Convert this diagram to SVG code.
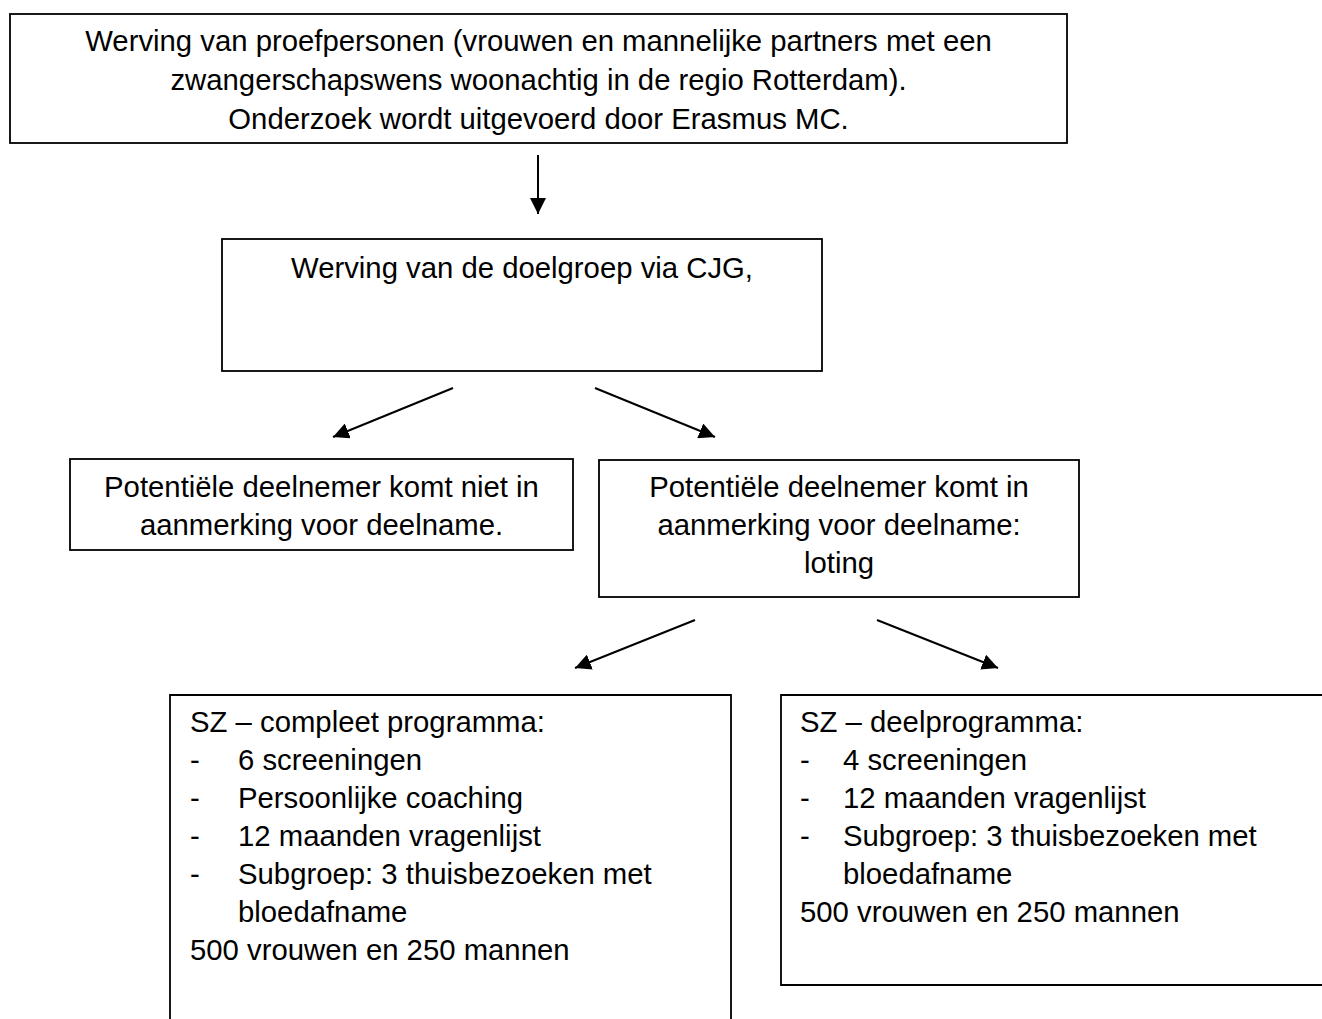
<svg xmlns="http://www.w3.org/2000/svg" width="1322" height="1019" viewBox="0 0 1322 1019">
  <style>
    .box { fill: #fff; stroke: #000; stroke-width: 1.8; }
    .t { font-family: "Liberation Sans", Arial, sans-serif; font-size: 29.3px; fill: #000; }
    .c { text-anchor: middle; }
    .arrow { stroke: #000; stroke-width: 2; fill: none; marker-end: url(#ah); }
  </style>
  <defs>
    <marker id="ah" markerUnits="userSpaceOnUse" markerWidth="16" markerHeight="16" refX="16" refY="8" orient="auto">
      <path d="M0,0 L16,8 L0,16 z" fill="#000"/>
    </marker>
  </defs>
  <rect width="1322" height="1019" fill="#fff"/>

  <g id="n1">
    <rect class="box" x="10" y="14" width="1057" height="129"/>
    <text class="t c" x="538.5" y="51">Werving van proefpersonen (vrouwen en mannelijke partners met een</text>
    <text class="t c" x="538.5" y="90">zwangerschapswens woonachtig in de regio Rotterdam).</text>
    <text class="t c" x="538.5" y="129">Onderzoek wordt uitgevoerd door Erasmus MC.</text>
  </g>

  <g id="n2">
    <rect class="box" x="222" y="239" width="600" height="132"/>
    <text class="t c" x="522" y="278">Werving van de doelgroep via CJG,</text>
  </g>

  <g id="n3">
    <rect class="box" x="70" y="459" width="503" height="91"/>
    <text class="t c" x="321.5" y="497">Potentiële deelnemer komt niet in</text>
    <text class="t c" x="321.5" y="535">aanmerking voor deelname.</text>
  </g>

  <g id="n4">
    <rect class="box" x="599" y="460" width="480" height="137"/>
    <text class="t c" x="839" y="497">Potentiële deelnemer komt in</text>
    <text class="t c" x="839" y="535">aanmerking voor deelname:</text>
    <text class="t c" x="839" y="573">loting</text>
  </g>

  <g id="n5">
    <path class="box" d="M170,1030 V695 H731 V1030"/>
    <text class="t" x="190" y="732">SZ – compleet programma:</text>
    <text class="t" x="190" y="770">-</text><text class="t" x="238" y="770">6 screeningen</text>
    <text class="t" x="190" y="808">-</text><text class="t" x="238" y="808">Persoonlijke coaching</text>
    <text class="t" x="190" y="846">-</text><text class="t" x="238" y="846">12 maanden vragenlijst</text>
    <text class="t" x="190" y="884">-</text><text class="t" x="238" y="884">Subgroep: 3 thuisbezoeken met</text>
    <text class="t" x="238" y="922">bloedafname</text>
    <text class="t" x="190" y="960">500 vrouwen en 250 mannen</text>
  </g>

  <g id="n6">
    <path class="box" d="M1330,695 H781 V985 H1330"/>
    <text class="t" x="800" y="732">SZ – deelprogramma:</text>
    <text class="t" x="800" y="770">-</text><text class="t" x="843" y="770">4 screeningen</text>
    <text class="t" x="800" y="808">-</text><text class="t" x="843" y="808">12 maanden vragenlijst</text>
    <text class="t" x="800" y="846">-</text><text class="t" x="843" y="846">Subgroep: 3 thuisbezoeken met</text>
    <text class="t" x="843" y="884">bloedafname</text>
    <text class="t" x="800" y="922">500 vrouwen en 250 mannen</text>
  </g>

  <g id="connectors">
    <line class="arrow" x1="538" y1="155" x2="538" y2="214"/>
    <line class="arrow" x1="453" y1="388" x2="333" y2="437"/>
    <line class="arrow" x1="595" y1="388" x2="715" y2="437"/>
    <line class="arrow" x1="695" y1="620" x2="575" y2="668"/>
    <line class="arrow" x1="877" y1="620" x2="998" y2="668"/>
  </g>
</svg>
